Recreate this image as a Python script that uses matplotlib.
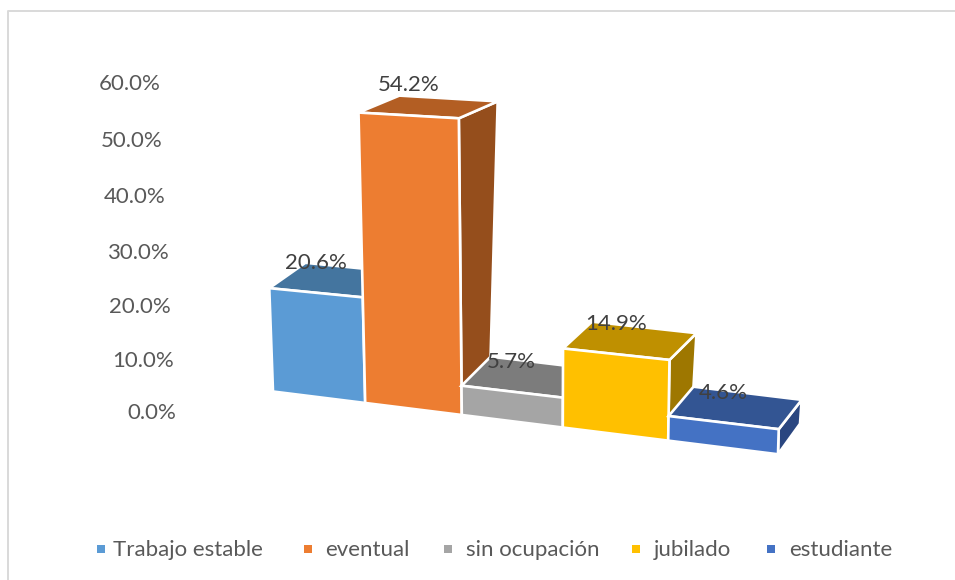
import matplotlib
matplotlib.use('Agg')
import matplotlib.pyplot as plt
from matplotlib.patches import Polygon, Rectangle

plt.rcParams['font.family'] = ['Lato', 'DejaVu Sans']

categorias = ['Trabajo estable', 'eventual', 'sin ocupación', 'jubilado', 'estudiante']
valores = [20.6, 54.2, 5.7, 14.9, 4.6]
etiquetas = ['20.6%', '54.2%', '5.7%', '14.9%', '4.6%']
ticks = [0, 10, 20, 30, 40, 50, 60]
tick_labels = ['0.0%', '10.0%', '20.0%', '30.0%', '40.0%', '50.0%', '60.0%']

c_frente = ['#5b9bd5', '#ed7d31', '#a5a5a5', '#ffc000', '#4472c4']
c_topo = ['#44759f', '#b35e23', '#7c7c7c', '#bf9000', '#335593']
c_lado = ['#386083', '#954e1c', '#666666', '#9e7700', '#2a4680']


# perspectiva aproximada do grafico 3D do Excel
def projetar(u, v, prof=0):
    h = (4.877 * v + 0.00675 * v * v) * (1 + 0.022 * u)
    x = 273 + 90 * u + 2.2 * u * u + (-0.036 + 0.013 * u) * h
    y = 391.5 + 11.2 * u + 0.27 * u * u - h
    if prof:
        x += 32 - 2 * u + 0.2 * v
        y -= 30.5 - 0.25 * v
    return x, y


def tick_pos(v):
    return 176.5 - 0.27 * v, 413 - 5.2 * v - 0.0047 * v * v


fig, ax = plt.subplots(figsize=(9.55, 5.8), dpi=100)
fig.subplots_adjust(0, 0, 1, 1)
ax.set_xlim(0, 955)
ax.set_ylim(580, 0)
ax.axis('off')

# moldura
ax.plot([8, 8, 955], [580, 11, 11], color='#d9d9d9', lw=1.4)

for t, lab in zip(ticks, tick_labels):
    x, y = tick_pos(t)
    ax.text(x, y, lab, ha='right', va='center', fontsize=16, color='#595959')

for i, v in enumerate(valores):
    a, b = i, i + 1
    frente = [projetar(a, 0), projetar(b, 0), projetar(b, v), projetar(a, v)]
    topo = [projetar(a, v), projetar(b, v), projetar(b, v, 1), projetar(a, v, 1)]
    lado = [projetar(b, 0), projetar(b, v), projetar(b, v, 1), projetar(b, 0, 1)]
    ax.add_patch(Polygon(lado, fc=c_lado[i], ec='white', lw=1.9))
    ax.add_patch(Polygon(topo, fc=c_topo[i], ec='white', lw=1.9))
    ax.add_patch(Polygon(frente, fc=c_frente[i], ec='white', lw=1.9))

for i, v in enumerate(valores):
    x0, y0 = projetar(i, v)
    x1, y1 = projetar(i + 1, v)
    ax.text((x0 + x1) / 2 - 0.5, (y0 + y1) / 2 - 30, etiquetas[i], ha='center', va='center',
            fontsize=16, color='#404040')

# legenda
leg_q = [97, 304, 444, 632, 767]
leg_t = [113, 325, 466, 654, 789]
for i, nome in enumerate(categorias):
    ax.add_patch(Rectangle((leg_q[i], 545), 8, 8, fc=c_frente[i], ec='none'))
    ax.text(leg_t[i], 550, nome, ha='left', va='center', fontsize=16, color='#595959')

fig.savefig('out.png', dpi=100)
